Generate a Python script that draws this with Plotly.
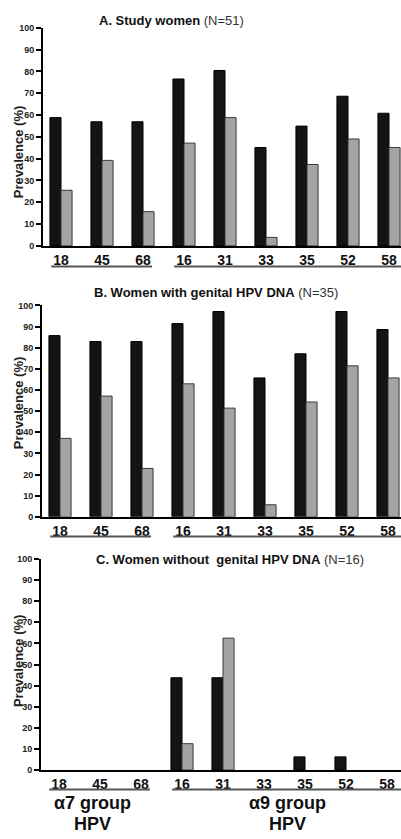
import plotly.graph_objects as go

types = ["18", "45", "68", "16", "31", "33", "35", "52", "58"]

# Panel A: Study women (N=51)
a_black = [58.8, 56.9, 56.9, 76.5, 80.4, 45.1, 54.9, 68.6, 60.8]
a_gray = [25.5, 39.2, 15.7, 47.1, 58.8, 3.9, 37.3, 49.0, 45.1]
# Panel B: Women with genital HPV DNA (N=35)
b_black = [85.7, 82.9, 82.9, 91.4, 97.1, 65.7, 77.1, 97.1, 88.6]
b_gray = [37.1, 57.1, 22.9, 62.9, 51.4, 5.7, 54.3, 71.4, 65.7]
# Panel C: Women without genital HPV DNA (N=16)
c_black = [0, 0, 0, 43.75, 43.75, 0, 6.25, 6.25, 0]
c_gray = [0, 0, 0, 12.5, 62.5, 0, 0, 0, 0]

titles = ["<b>A. Study women</b> <span style='color:#333'>(N=51)</span>",
          "<b>B. Women with genital HPV DNA</b> <span style='color:#333'>(N=35)</span>",
          "<b>C. Women without  genital HPV DNA</b> <span style='color:#333'>(N=16)</span>"]
group_line1 = ["α7 group", "α9 group"]
group_line2 = ["HPV", "HPV"]

W, H = 401, 839
def py(p):
    return 1 - p / H
def px(p):
    return p / W

# panel geometry in pixels
panels = [
    dict(ax=43, y0=243.8, y100=23, tx=97, ty=16, ly=149, uy=264.7),
    dict(ax=42, y0=518, y100=304, tx=92, ty=291, ly=403, uy=538),
    dict(ax=41, y0=774.3, y100=560.7, tx=94, ty=561, ly=664, uy=794),
]
data = [(a_black, a_gray), (b_black, b_gray), (c_black, c_gray)]

def nz(vals):
    return [v if v > 0 else None for v in vals]

fig = go.Figure()
xs = list(range(len(types)))
shapes = []
annotations = []
for i, (p, (blk, gry)) in enumerate(zip(panels, data)):
    n = "" if i == 0 else str(i + 1)
    fig.add_trace(go.Bar(x=xs, y=nz(blk), xaxis="x" + n, yaxis="y" + n,
                         marker=dict(color="#141414", line=dict(color="#000", width=1)),
                         showlegend=False, hoverinfo="y"))
    fig.add_trace(go.Bar(x=xs, y=nz(gry), xaxis="x" + n, yaxis="y" + n,
                         marker=dict(color="#a4a4a4", line=dict(color="#3a3a3a", width=1)),
                         showlegend=False, hoverinfo="y"))
    unit = 41.0
    x0 = -(18.0) / unit
    x1 = (W - (p["ax"] + 18.0)) / unit
    fig.layout["xaxis" + n] = dict(
        domain=[px(p["ax"]), 1], range=[x0, x1], anchor="y" + n,
        tickmode="array", tickvals=xs, ticktext=types,
        showline=True, linecolor="#000", linewidth=2, ticks="",
        tickfont=dict(family="Liberation Sans, Arial", size=14, color="#111", weight="bold"),
        showgrid=False, zeroline=False, fixedrange=True)
    fig.layout["yaxis" + n] = dict(
        domain=[py(p["y0"]), py(p["y100"])], range=[0, 100], anchor="x" + n,
        tickmode="linear", tick0=0, dtick=10,
        showline=True, linecolor="#000", linewidth=2,
        ticks="outside", ticklen=5, tickwidth=1.5, tickcolor="#000",
        tickfont=dict(family="Liberation Sans, Arial", size=9, color="#222", weight="bold"),
        showgrid=False, zeroline=False, fixedrange=True)
    annotations.append(dict(text=titles[i], x=px(p["tx"]), y=py(p["ty"]), xref="paper", yref="paper",
                            xanchor="left", yanchor="middle", showarrow=False,
                            font=dict(family="Liberation Sans, Arial", size=13, color="#111")))
    annotations.append(dict(text="<b>Prevalence (%)</b>", x=px(18), y=py(p["ly"]), xref="paper", yref="paper",
                            xanchor="center", yanchor="middle", textangle=-90, showarrow=False,
                            font=dict(family="Liberation Sans, Arial", size=13, color="#222")))
    for (a, b) in [(-0.24, 2.22), (2.76, x1)]:
        shapes.append(dict(type="line", xref="x" + n, yref="paper", x0=a, x1=b,
                           y0=py(p["uy"]), y1=py(p["uy"]), line=dict(color="#555", width=2)))

for cx, t1, t2 in zip([92, 287], group_line1, group_line2):
    annotations.append(dict(text="<b>" + t1 + "</b>", x=px(cx), y=py(808), xref="paper", yref="paper",
                            xanchor="center", yanchor="middle", showarrow=False,
                            font=dict(family="Liberation Sans, Arial", size=18, color="#111")))
    annotations.append(dict(text="<b>" + t2 + "</b>", x=px(cx), y=py(829), xref="paper", yref="paper",
                            xanchor="center", yanchor="middle", showarrow=False,
                            font=dict(family="Liberation Sans, Arial", size=18, color="#111")))

fig.update_layout(width=W, height=H, margin=dict(l=0, r=0, t=0, b=0),
                  paper_bgcolor="white", plot_bgcolor="white",
                  barmode="group", bargap=0.46, bargroupgap=0,
                  shapes=shapes, annotations=annotations)
fig.write_html("out.html", config={"displayModeBar": False},
               post_script="document.body.style.margin='0';document.body.style.overflow='hidden';")
